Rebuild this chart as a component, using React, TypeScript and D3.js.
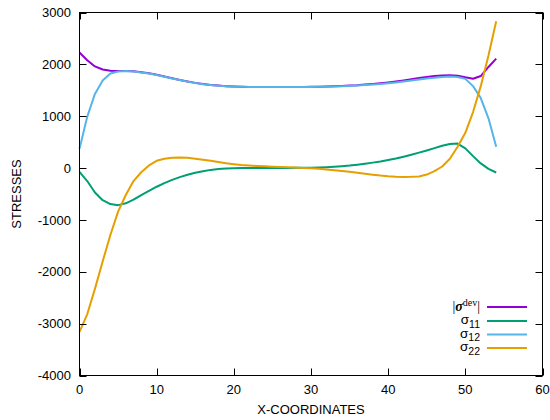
import React from 'react';
import * as d3 from 'd3';

// Nodal x positions along the section
const xCoords = [
  0, 1, 2, 3, 4, 5, 6, 7, 8, 9, 10, 11, 12, 13, 14, 15, 16, 17, 18, 19,
  20, 21, 22, 23, 24, 25, 26, 27, 28, 29, 30, 31, 32, 33, 34, 35, 36, 37, 38, 39,
  40, 41, 42, 43, 44, 45, 46, 47, 48, 49, 50, 51, 52, 53, 54,
];

// |sigma^dev| magnitude
const sigmaDev = [
  2230, 2080, 1960, 1900, 1875, 1870, 1872, 1865, 1850, 1828,
  1800, 1765, 1732, 1700, 1670, 1643, 1620, 1603, 1590, 1580,
  1573, 1568, 1565, 1563, 1562, 1562, 1562, 1562, 1563, 1564,
  1566, 1568, 1572, 1577, 1583, 1590, 1598, 1610, 1622, 1636,
  1652, 1670, 1690, 1712, 1735, 1757, 1775, 1787, 1792, 1782,
  1750, 1722, 1775, 1950, 2110,
];

// sigma_11
const sigma11 = [
  -75, -250, -470, -620, -695, -715, -680, -610, -520, -440,
  -360, -290, -228, -175, -130, -90, -60, -35, -18, -7,
  -2, 0, 1, 1, 2, 2, 3, 3, 4, 4,
  5, 9, 15, 24, 35, 48, 65, 85, 105, 128,
  155, 185, 220, 258, 298, 340, 385, 430, 465, 472,
  380, 230, 90, -15, -85,
];

// sigma_12
const sigma12 = [
  370, 990, 1430, 1690, 1825, 1862, 1870, 1862, 1845, 1822,
  1795, 1762, 1728, 1697, 1667, 1640, 1618, 1600, 1587, 1577,
  1570, 1566, 1563, 1562, 1561, 1561, 1561, 1561, 1562, 1563,
  1564, 1566, 1569, 1573, 1578, 1584, 1591, 1600, 1610, 1622,
  1636, 1652, 1669, 1688, 1707, 1726, 1744, 1758, 1765, 1758,
  1720, 1580, 1350, 960, 410,
];

// sigma_22
const sigma22 = [
  -3160, -2820, -2330, -1800, -1290, -840, -520, -250, -80, 50,
  140, 178, 198, 205, 198, 180, 162, 141, 115, 92,
  75, 60, 50, 41, 33, 26, 20, 15, 9, 3,
  -5, -14, -26, -40, -55, -72, -90, -110, -128, -145,
  -158, -166, -170, -168, -162, -125, -60, 30, 180, 410,
  680, 1080, 1580, 2170, 2830,
];

const xTicks = [0, 10, 20, 30, 40, 50, 60];
const yTicks = [-4000, -3000, -2000, -1000, 0, 1000, 2000, 3000];

const W = 550;
const H = 420;
const L = 79.5;
const R = 542.5;
const T = 12.5;
const B = 375.5;
const TICK = 7;

const sans = '"Liberation Sans", Arial, Helvetica, sans-serif';
const serif = '"Liberation Serif", "DejaVu Serif", serif';

const series = [
  { key: 'dev', values: sigmaDev, color: '#9400d3' },
  { key: 's11', values: sigma11, color: '#009e73' },
  { key: 's12', values: sigma12, color: '#56b4e9' },
  { key: 's22', values: sigma22, color: '#e69f00' },
];

export default function App() {
  const x = d3.scaleLinear().domain([0, 60]).range([L, R]);
  const y = d3.scaleLinear().domain([-4000, 3000]).range([B, T]);

  const makeLine = (vals: number[]) =>
    d3
      .line<number>()
      .x((_, i) => x(xCoords[i]))
      .y((d) => y(d))(vals) as string;

  const legendX0 = 487;
  const legendX1 = 527;
  const labelRight = 480;
  const rowY = [307, 321, 334.5, 348];

  return (
    <svg
      width={W}
      height={H}
      style={{ position: 'absolute', left: 0, top: 0, background: '#fff' }}
      fontFamily={sans}
    >
      {/* curves */}
      <g fill="none" strokeWidth={2} strokeLinejoin="round">
        {series.map((s) => (
          <path key={s.key} d={makeLine(s.values)} stroke={s.color} />
        ))}
      </g>

      {/* frame */}
      <rect x={L} y={T} width={R - L} height={B - T} fill="none" stroke="#000" strokeWidth={1} />

      {/* ticks, mirrored on the opposite sides */}
      <g stroke="#000" strokeWidth={1}>
        {yTicks.map((v) => {
          const yy = Math.round(y(v)) + 0.5;
          return (
            <g key={`yt${v}`}>
              <line x1={L} x2={L + TICK} y1={yy} y2={yy} />
              <line x1={R} x2={R - TICK} y1={yy} y2={yy} />
            </g>
          );
        })}
        {xTicks.map((v) => {
          const xx = Math.round(x(v)) + 0.5;
          return (
            <g key={`xt${v}`}>
              <line x1={xx} x2={xx} y1={B} y2={B - TICK} />
              <line x1={xx} x2={xx} y1={T} y2={T + TICK} />
            </g>
          );
        })}
      </g>

      {/* tick labels */}
      <g fontSize={13} fill="#000">
        {yTicks.map((v) => (
          <text key={`yl${v}`} x={71} y={y(v) + 4.7} textAnchor="end">
            {v}
          </text>
        ))}
        {xTicks.map((v) => (
          <text key={`xl${v}`} x={x(v)} y={394} textAnchor="middle">
            {v}
          </text>
        ))}
      </g>

      {/* axis titles */}
      <text x={(L + R) / 2} y={413.5} textAnchor="middle" fontSize={13}>
        X-COORDINATES
      </text>
      <text
        transform={`translate(20.7, ${(T + B) / 2}) rotate(-90)`}
        textAnchor="middle"
        fontSize={13}
      >
        STRESSES
      </text>

      {/* legend */}
      <g>
        {series.map((s, i) => (
          <line
            key={`lg${s.key}`}
            x1={legendX0}
            x2={legendX1}
            y1={rowY[i]}
            y2={rowY[i]}
            stroke={s.color}
            strokeWidth={2}
          />
        ))}
        <text x={labelRight} y={rowY[0] + 4} textAnchor="end" fontFamily={serif} fontSize={14}>
          <tspan>|</tspan>
          <tspan fontWeight="bold" fontStyle="italic">σ</tspan>
          <tspan fontSize={10} dy={-5}>dev</tspan>
          <tspan dy={5}>|</tspan>
        </text>
        {[
          ['11', rowY[1]],
          ['12', rowY[2]],
          ['22', rowY[3]],
        ].map(([sub, yy]) => (
          <text key={`lt${sub}`} x={labelRight} y={(yy as number) + 3} textAnchor="end" fontSize={13.5}>
            <tspan>σ</tspan>
            <tspan fontSize={10.5} dy={3.5}>{sub}</tspan>
          </text>
        ))}
      </g>
    </svg>
  );
}
